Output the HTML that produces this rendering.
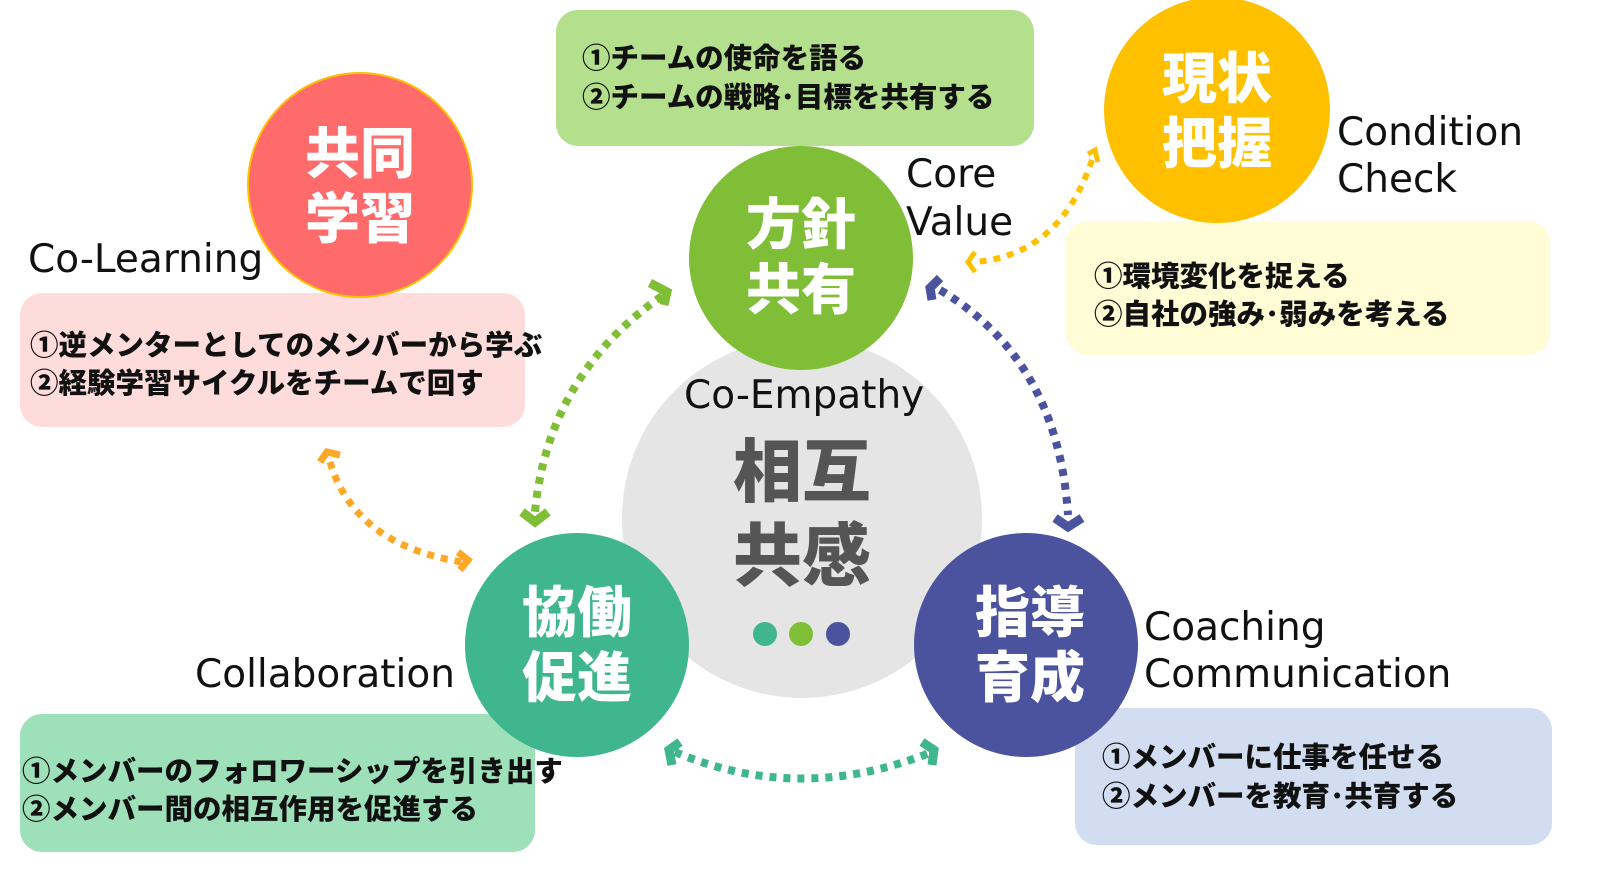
<!DOCTYPE html>
<html><head><meta charset="utf-8"><style>
html,body{margin:0;padding:0;background:#fff;}
svg{display:block}
.jp{font-family:"Liberation Sans","Noto Sans CJK JP",sans-serif;font-weight:900}
.en{font-family:"DejaVu Sans","Liberation Sans",sans-serif;font-size:39px;fill:#111}
.box{font-size:28.5px;fill:#111}
.ct{font-size:55px;fill:#fff}
</style></head><body>
<svg width="1614" height="878" viewBox="0 0 1614 878" xmlns="http://www.w3.org/2000/svg">
<!-- boxes -->
<rect x="556" y="10" width="478" height="136" rx="22" fill="#b4df8c"/>
<rect x="1066" y="221" width="484" height="134" rx="22" fill="#fffcd6"/>
<rect x="20" y="293" width="505" height="134" rx="22" fill="#ffdcdc"/>
<rect x="20" y="714" width="515" height="138" rx="22" fill="#9ee0b9"/>
<rect x="1075" y="708" width="477" height="137" rx="22" fill="#d2ddf1"/>

<circle cx="802" cy="518" r="180" fill="#e5e5e5"/>
<circle cx="360" cy="185" r="112" fill="#ff6b6b" stroke="#ffc000" stroke-width="2"/>
<circle cx="1217" cy="110" r="113" fill="#ffc000"/>
<circle cx="801" cy="258" r="112" fill="#80be38"/>
<circle cx="577" cy="645" r="112" fill="#3fb68e"/>
<circle cx="1026" cy="645" r="112" fill="#4b539f"/>

<circle cx="765" cy="634" r="12" fill="#3fb68e"/>
<circle cx="801" cy="634" r="12" fill="#80be38"/>
<circle cx="838" cy="634" r="12" fill="#4b539f"/>

<g fill="none" stroke-width="8" stroke-dasharray="7 7">
<path d="M662 296 Q548 375 535 512" stroke="#80be38"/>
<path d="M940 290 Q1058 360 1068 515" stroke="#4b539f"/>
<path d="M675 752 Q800 805 932 752" stroke="#3fb68e"/>
<path d="M330 462 Q355 545 462 562" stroke="#ffa726" stroke-width="7"/>
<path d="M1092 160 Q1060 255 975 262" stroke="#ffc000" stroke-width="6"/>
</g>
<g fill="none" stroke-width="9">
<polyline points="650,283 667,292 664,305" stroke="#80be38"/>
<polyline points="522,512 535,522 548,512" stroke="#80be38"/>
<polyline points="940,278 930,288 932,300" stroke="#4b539f"/>
<polyline points="1055,518 1068,527 1082,518" stroke="#4b539f"/>
<polyline points="680,742 669,750 672,765" stroke="#3fb68e"/>
<polyline points="922,742 934,750 932,765" stroke="#3fb68e"/>
<polyline points="320,462 327,452 340,455" stroke="#ffa726" stroke-width="7"/>
<polyline points="458,552 468,560 460,570" stroke="#ffa726" stroke-width="7"/>
<polyline points="1088,154 1095,150 1098,162" stroke="#ffc000" stroke-width="5"/>
<polyline points="975,252 968,262 975,272" stroke="#ffc000" stroke-width="5"/>
</g>

<g class="jp ct" text-anchor="middle">
<text x="360" y="173">共同</text><text x="360" y="238">学習</text>
<text x="1217" y="98">現状</text><text x="1217" y="163">把握</text>
<text x="801" y="244">方針</text><text x="801" y="309">共有</text>
<text x="577" y="632">協働</text><text x="577" y="697">促進</text>
<text x="1030" y="632">指導</text><text x="1030" y="697">育成</text>
</g>
<g class="jp" text-anchor="middle" fill="#555" font-size="69">
<text x="802" y="496">相互</text><text x="802" y="580">共感</text>
</g>

<text class="en" x="28" y="272">Co-Learning</text>
<text class="en" x="1337" y="145">Condition</text>
<text class="en" x="1337" y="192">Check</text>
<text class="en" x="906" y="187">Core</text>
<text class="en" x="906" y="235">Value</text>
<text class="en" x="684" y="408">Co-Empathy</text>
<text class="en" x="195" y="687">Collaboration</text>
<text class="en" x="1144" y="640">Coaching</text>
<text class="en" x="1144" y="687">Communication</text>

<g class="jp box">
<text x="582" y="68">①チームの使命を語る</text>
<text x="582" y="107">②チームの戦略･目標を共有する</text>
<text x="1094" y="286">①環境変化を捉える</text>
<text x="1094" y="324">②自社の強み･弱みを考える</text>
<text x="30" y="355">①逆メンターとしてのメンバーから学ぶ</text>
<text x="30" y="393">②経験学習サイクルをチームで回す</text>
<text x="22" y="781">①メンバーのフォロワーシップを引き出す</text>
<text x="22" y="819">②メンバー間の相互作用を促進する</text>
<text x="1102" y="767">①メンバーに仕事を任せる</text>
<text x="1102" y="806">②メンバーを教育･共育する</text>
</g>
</svg>
</body></html>
